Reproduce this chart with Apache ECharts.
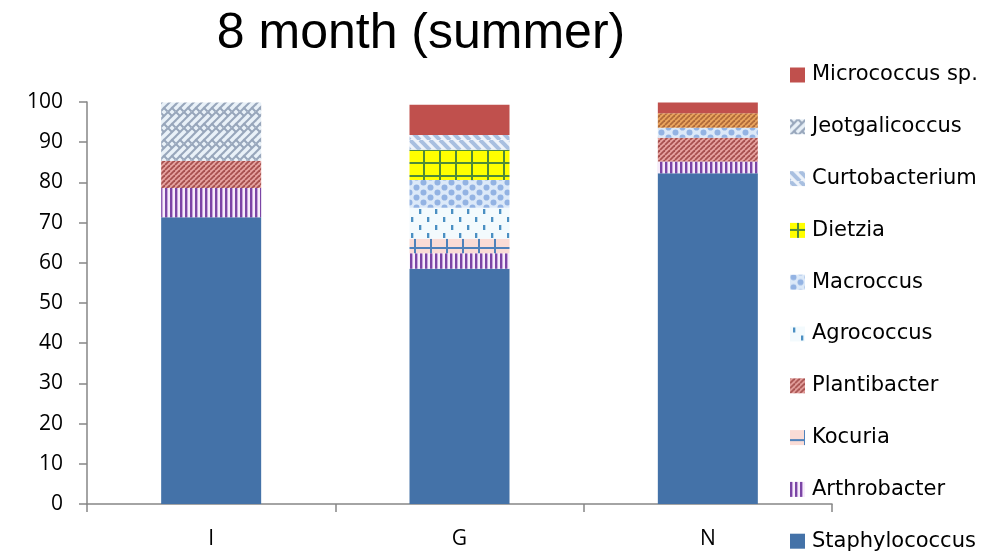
<!DOCTYPE html>
<html>
<head>
<meta charset="utf-8">
<title>8 month (summer)</title>
<script src="https://cdn.jsdelivr.net/npm/echarts@6/dist/echarts.min.js"></script>
<style>
  html, body { margin: 0; padding: 0; background: #fff; }
  #chart { width: 1002px; height: 556px; }
</style>
</head>
<body>
<div id="chart"></div>
<script>
// categories (sampling sites)
const sites = ['I', 'G', 'N']

// relative abundance (%) per genus, bottom of stack first
const staphylococcus = [71.3, 58.5, 82.3]
const arthrobacter = [7.3, 3.9, 2.9]
const kocuria = [0, 3.6, 0]
const plantibacter = [6.8, 0, 5.9]
const agrococcus = [0, 7.7, 0]
const macroccus = [0, 6.9, 2.5]
const dietzia = [0, 7.5, 0]
const curtobacterium = [0, 3.7, 3.6]
const jeotgalicoccus = [14.5, 0, 0]
const micrococcus = [0, 7.5, 2.7]

const yTicks = { min: 0, max: 100, interval: 10 }

// --- fill patterns, drawn once on small canvases ---
function makePattern(w, h, draw) {
  const c = document.createElement('canvas')
  c.width = w
  c.height = h
  const ctx = c.getContext('2d')
  draw(ctx, w, h)
  return { image: c, repeat: 'repeat' }
}

// diagonal stripes; dir 1 = '/', -1 = '\'
function stripes(p, bg, fg, lw, dir) {
  return makePattern(p, p, (ctx) => {
    ctx.fillStyle = bg
    ctx.fillRect(0, 0, p, p)
    ctx.strokeStyle = fg
    ctx.lineWidth = lw
    for (let k = -p; k <= p; k += p) {
      ctx.beginPath()
      if (dir > 0) {
        ctx.moveTo(k, p)
        ctx.lineTo(k + p, 0)
      } else {
        ctx.moveTo(k, 0)
        ctx.lineTo(k + p, p)
      }
      ctx.stroke()
    }
  })
}

const fills = {
  staph: '#4472a8',
  micro: '#c0504d',
  arthro: makePattern(5, 5, (ctx) => {
    ctx.fillStyle = '#f6ecfa'
    ctx.fillRect(0, 0, 5, 5)
    ctx.fillStyle = '#7b45a5'
    ctx.fillRect(0, 0, 2, 5)
    ctx.fillStyle = '#c7a6dc'
    ctx.fillRect(2, 0, 1, 5)
  }),
  kocuria: makePattern(16, 14, (ctx) => {
    ctx.fillStyle = '#fadcd6'
    ctx.fillRect(0, 0, 16, 14)
    ctx.fillStyle = '#4f82bb'
    ctx.fillRect(14, 0, 2, 14)
    ctx.fillRect(0, 9, 16, 2)
  }),
  planti: stripes(5, '#e6a3a0', '#a6504e', 1.8, 1),
  agro: makePattern(16, 16, (ctx) => {
    ctx.fillStyle = '#f3fafd'
    ctx.fillRect(0, 0, 16, 16)
    ctx.fillStyle = '#4b8fc2'
    ctx.fillRect(3, 1, 2, 5)
    ctx.fillRect(11, 9, 2, 5)
    ctx.fillStyle = '#b9d8ec'
    ctx.fillRect(5, 1, 1, 5)
    ctx.fillRect(13, 9, 1, 5)
  }),
  macro: makePattern(14, 10, (ctx) => {
    ctx.fillStyle = '#dce9f8'
    ctx.fillRect(0, 0, 14, 10)
    ctx.fillStyle = '#93b3e3'
    const dots = [[3.5, 2.5], [10.5, 7.5], [-3.5, 7.5], [17.5, 2.5], [10.5, -2.5], [3.5, 12.5]]
    dots.forEach(([x, y]) => {
      ctx.beginPath()
      ctx.arc(x, y, 3, 0, Math.PI * 2)
      ctx.fill()
    })
  }),
  dietzia: makePattern(16, 13, (ctx) => {
    ctx.fillStyle = '#ffff00'
    ctx.fillRect(0, 0, 16, 13)
    ctx.fillStyle = '#4f8a3a'
    ctx.fillRect(7, 0, 2, 13)
    ctx.fillRect(0, 6, 16, 2)
  }),
  curto: stripes(10, '#eef3fa', '#a8bfe0', 4, -1),
  // woven look: light bricks with grey seams
  jeot: makePattern(16, 16, (ctx) => {
    ctx.fillStyle = '#e9f1f8'
    ctx.fillRect(0, 0, 16, 16)
    ctx.strokeStyle = '#97a6bb'
    ctx.lineWidth = 2
    for (let k = -16; k <= 16; k += 8) {
      ctx.beginPath()
      ctx.moveTo(k, 16)
      ctx.lineTo(k + 16, 0)
      ctx.stroke()
    }
    ctx.setLineDash([6, 10])
    for (let k = -16; k <= 16; k += 8) {
      ctx.beginPath()
      ctx.moveTo(k, 0)
      ctx.lineTo(k + 16, 16)
      ctx.stroke()
    }
  }),
  odd: stripes(5, '#eaa55e', '#b06a3a', 1.8, 1) // single N segment drawn in orange in the original
}

const genera = [
  { name: 'Staphylococcus', data: staphylococcus, fill: fills.staph },
  { name: 'Arthrobacter', data: arthrobacter, fill: fills.arthro },
  { name: 'Kocuria', data: kocuria, fill: fills.kocuria },
  { name: 'Plantibacter', data: plantibacter, fill: fills.planti },
  { name: 'Agrococcus', data: agrococcus, fill: fills.agro },
  { name: 'Macroccus', data: macroccus, fill: fills.macro },
  { name: 'Dietzia', data: dietzia, fill: fills.dietzia },
  { name: 'Curtobacterium', data: curtobacterium, fill: fills.curto },
  { name: 'Jeotgalicoccus', data: jeotgalicoccus, fill: fills.jeot },
  { name: 'Micrococcus sp.', data: micrococcus, fill: fills.micro }
]

const series = genera.map(g => ({
  name: g.name,
  type: 'bar',
  stack: 'total',
  barWidth: 100,
  itemStyle: { color: g.fill },
  data: g.data.map((v, i) => {
    // the Curtobacterium point at N is orange-striped in the source
    if (g.name === 'Curtobacterium' && sites[i] === 'N') {
      return { value: v, itemStyle: { color: fills.odd } }
    }
    return v
  })
}))

const axisGray = '#868686'
const labelFont = '"Open Sans", Lato, "Liberation Sans", sans-serif'

const myChart = echarts.init(document.getElementById('chart'), null, { renderer: 'canvas' })
myChart.setOption({
  animation: false,
  title: {
    text: '8 month (summer)',
    left: 421,
    top: 9,
    padding: 0,
    textAlign: 'center',
    textStyle: {
      fontFamily: '"Liberation Sans", Arial, sans-serif',
      fontSize: 50,
      fontWeight: 'normal',
      color: '#000'
    }
  },
  legend: {
    orient: 'vertical',
    left: 790,
    top: 64,
    padding: 0,
    height: 492,
    itemWidth: 15,
    itemHeight: 15,
    itemGap: 29.8,
    icon: 'rect',
    selectedMode: false,
    data: genera.map(g => g.name).reverse(),
    textStyle: {
      fontFamily: '"DejaVu Sans", "Open Sans", sans-serif',
      fontSize: 21,
      lineHeight: 22,
      color: '#000',
      padding: [0, 0, 0, 2]
    }
  },
  grid: {
    left: 87,
    right: 170,
    top: 102,
    bottom: 52,
    containLabel: false
  },
  xAxis: {
    type: 'category',
    data: sites,
    axisLine: { lineStyle: { color: axisGray, width: 1.5 } },
    axisTick: { show: true, length: 8, lineStyle: { color: axisGray, width: 1.5 } },
    axisLabel: {
      margin: 25,
      fontFamily: labelFont,
      fontSize: 21,
      color: '#000'
    }
  },
  yAxis: {
    type: 'value',
    min: yTicks.min,
    max: yTicks.max,
    interval: yTicks.interval,
    splitLine: { show: false },
    axisLine: { show: true, lineStyle: { color: axisGray, width: 1.5 } },
    axisTick: { show: true, length: 8, lineStyle: { color: axisGray, width: 1.5 } },
    axisLabel: {
      margin: 24,
      fontFamily: labelFont,
      fontSize: 21,
      color: '#000'
    }
  },
  series
})
</script>
</body>
</html>
